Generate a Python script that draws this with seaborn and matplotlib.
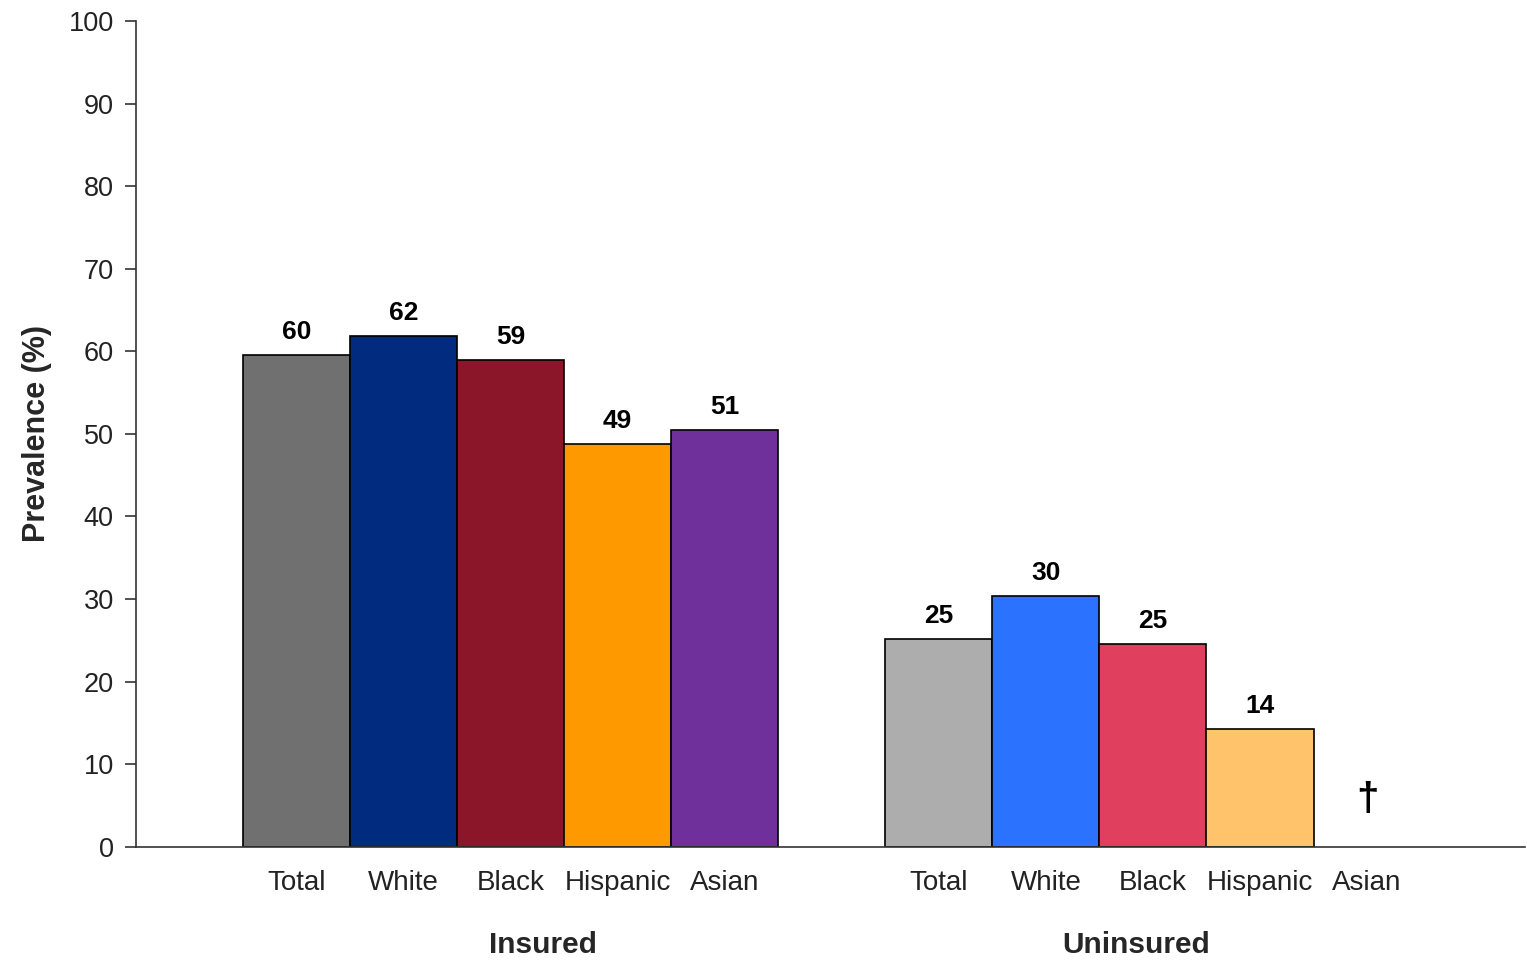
import pandas as pd
import matplotlib.pyplot as plt
import seaborn as sns

groups = ['Insured', 'Uninsured']
races = ['Total', 'White', 'Black', 'Hispanic', 'Asian']
insured_values = [59.6, 61.9, 59.0, 48.8, 50.5]
uninsured_values = [25.1, 30.4, 24.6, 14.2, None]
insured_labels = ['60', '62', '59', '49', '51']
uninsured_labels = ['25', '30', '25', '14', '\u2020']
insured_colors = ['#707070', '#002B7F', '#8B1529', '#FF9900', '#70309B']
uninsured_colors = ['#ADADAD', '#2A72FF', '#E0405E', '#FFC36B', '#FFFFFF']

rows = []
for g, vals, labs, cols in [(groups[0], insured_values, insured_labels, insured_colors),
                            (groups[1], uninsured_values, uninsured_labels, uninsured_colors)]:
    for r, v, l, c in zip(races, vals, labs, cols):
        rows.append({'key': g + '|' + r, 'race': r, 'value': v, 'label': l, 'color': c})
df = pd.DataFrame(rows)

order = [groups[0] + '|' + r for r in races] + ['gap'] + [groups[1] + '|' + r for r in races]
bars = df.dropna(subset=['value'])
palette = dict(zip(df['key'], df['color']))

sns.set_style('white')
plt.rcParams['font.family'] = ['Liberation Sans', 'DejaVu Sans']

fig = plt.figure(figsize=(15.27, 9.6), dpi=100)
ax = fig.add_axes([0.089, 0.118, 0.91, 0.86])

sns.barplot(data=bars, x='key', y='value', hue='key', palette=palette, order=order,
            hue_order=list(bars['key']), width=1.0, edgecolor='black', linewidth=1.2,
            legend=False, ax=ax, saturation=1)

for _, row in df.iterrows():
    pos = order.index(row['key'])
    if pd.isna(row['value']):
        ax.text(pos, 3.4, row['label'], ha='center', va='bottom', fontsize=29,
                fontweight='bold', color='black')
    else:
        ax.annotate(row['label'], (pos, row['value']), xytext=(0, 8), textcoords='offset points',
                    ha='center', va='bottom', fontsize=19, fontweight='bold', color='black')

ax.set_xticks(range(len(order)))
ax.set_xticklabels([k.split('|')[1] if '|' in k else '' for k in order], fontsize=20, color='#222222')
ax.tick_params(axis='x', length=0, pad=17)
ax.set_yticks(range(0, 101, 10))
ax.tick_params(axis='y', labelsize=19.5, labelcolor='#222222', length=8, width=1.2,
               color='#333333', direction='out', left=True, pad=8)
ax.set_ylim(0, 100)
ax.set_xlim(-1.5, 11.48)
ax.set_xlabel('')
ax.set_ylabel('Prevalence (%)', fontsize=22, fontweight='bold', labelpad=12)

for s in ['top', 'right']:
    ax.spines[s].set_visible(False)
for s in ['left', 'bottom']:
    ax.spines[s].set_color('#333333')
    ax.spines[s].set_linewidth(1.2)

ax.text(2.3, -11.9, groups[0], ha='center', va='center', fontsize=21.5, fontweight='bold')
ax.text(7.84, -11.9, groups[1], ha='center', va='center', fontsize=21.5, fontweight='bold')

fig.savefig('out.png', dpi=100)
